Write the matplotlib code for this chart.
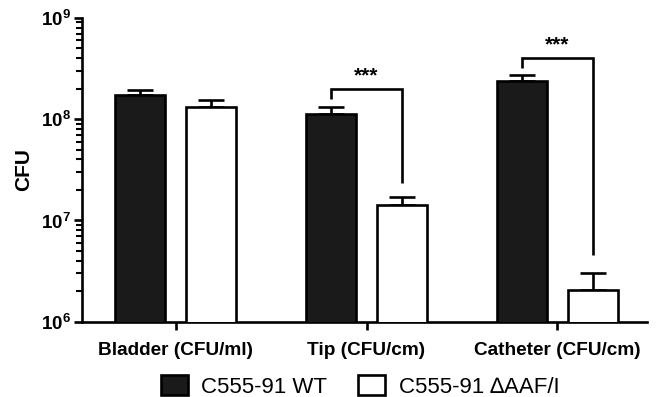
import numpy as np
import matplotlib
matplotlib.use('Agg')
import matplotlib.pyplot as plt
from matplotlib.patches import Patch

plt.rcParams['font.family'] = ['Liberation Sans', 'DejaVu Sans']
plt.rcParams['mathtext.fontset'] = 'custom'
plt.rcParams['mathtext.rm'] = 'Liberation Sans:bold'
plt.rcParams['mathtext.bf'] = 'Liberation Sans:bold'

# data
categories = ['Bladder (CFU/ml)', 'Tip (CFU/cm)', 'Catheter (CFU/cm)']
seriesNames = ['C555-91 WT', 'C555-91 \u2206AAF/I']
wtMean = [1.73e8, 1.12e8, 2.38e8]
wtTop = [1.94e8, 1.31e8, 2.73e8]
mutMean = [1.31e8, 1.41e7, 2.07e6]
mutTop = [1.54e8, 1.69e7, 2.99e6]

# significance brackets: category index, top, left leg end, right leg end
sigCat = [1, 2]
sigTop = [2.0e8, 4.0e8]
sigLeft = [1.58e8, 3.2e8]
sigRight = [2.35e7, 4.5e6]
sigText = ['***', '***']

yTicks = [1e6, 1e7, 1e8, 1e9]
yTickLabels = [r'$10^{6}$', r'$10^{7}$', r'$10^{8}$', r'$10^{9}$']

# ------------------------------------------------------------

fig = plt.figure(figsize=(6.63, 3.97), dpi=100)
ax = fig.add_axes([0.124, 0.19, 0.852, 0.765])

x = np.arange(len(categories))
off = 0.186
width = 0.26
lw = 1.9

ax.bar(x - off, wtMean, width, color='#1a1a1a', edgecolor='black', linewidth=lw, zorder=3)
ax.bar(x + off, mutMean, width, color='white', edgecolor='black', linewidth=lw, zorder=3)

for xs, mean, top in [(x - off, wtMean, wtTop), (x + off, mutMean, mutTop)]:
    mean = np.array(mean)
    err = np.array(top) - mean
    ax.errorbar(xs, mean, yerr=[np.zeros_like(err), err], fmt='none', ecolor='black',
                elinewidth=lw, capsize=9.5, capthick=lw, zorder=2)

for c, t, l, r, s in zip(sigCat, sigTop, sigLeft, sigRight, sigText):
    ax.plot([c - off, c - off, c + off, c + off], [l, t, t, r], color='black',
            lw=lw, solid_capstyle='butt', solid_joinstyle='miter')
    ax.text(c, t * 1.08, s, ha='center', va='bottom', fontsize=15, fontweight='bold')

ax.set_yscale('log')
ax.set_ylim(1e6, 1e9)
ax.set_xlim(-0.49, 2.47)
ax.set_yticks(yTicks)
ax.set_yticklabels(yTickLabels, fontsize=13.5)
ax.set_xticks(x)
ax.set_xticklabels(categories, fontsize=13.7, fontweight='bold')
ax.set_ylabel('CFU', fontsize=15, fontweight='bold', labelpad=6)

for side in ['top', 'right']:
    ax.spines[side].set_visible(False)
for side in ['left', 'bottom']:
    ax.spines[side].set_linewidth(lw)
ax.tick_params(axis='both', which='major', direction='out', width=lw, length=6, pad=2)
ax.tick_params(axis='y', which='minor', direction='out', width=1.5, length=4)
ax.tick_params(axis='x', pad=9)

handles = [Patch(facecolor='#1a1a1a', edgecolor='black', linewidth=lw),
           Patch(facecolor='white', edgecolor='black', linewidth=lw)]
fig.legend(handles, seriesNames, loc='lower center', bbox_to_anchor=(0.543, -0.052),
           ncol=2, frameon=False, fontsize=16, handlelength=1.22, handleheight=0.95,
           columnspacing=1.4, handletextpad=0.6)

fig.savefig('out.png', dpi=100)
